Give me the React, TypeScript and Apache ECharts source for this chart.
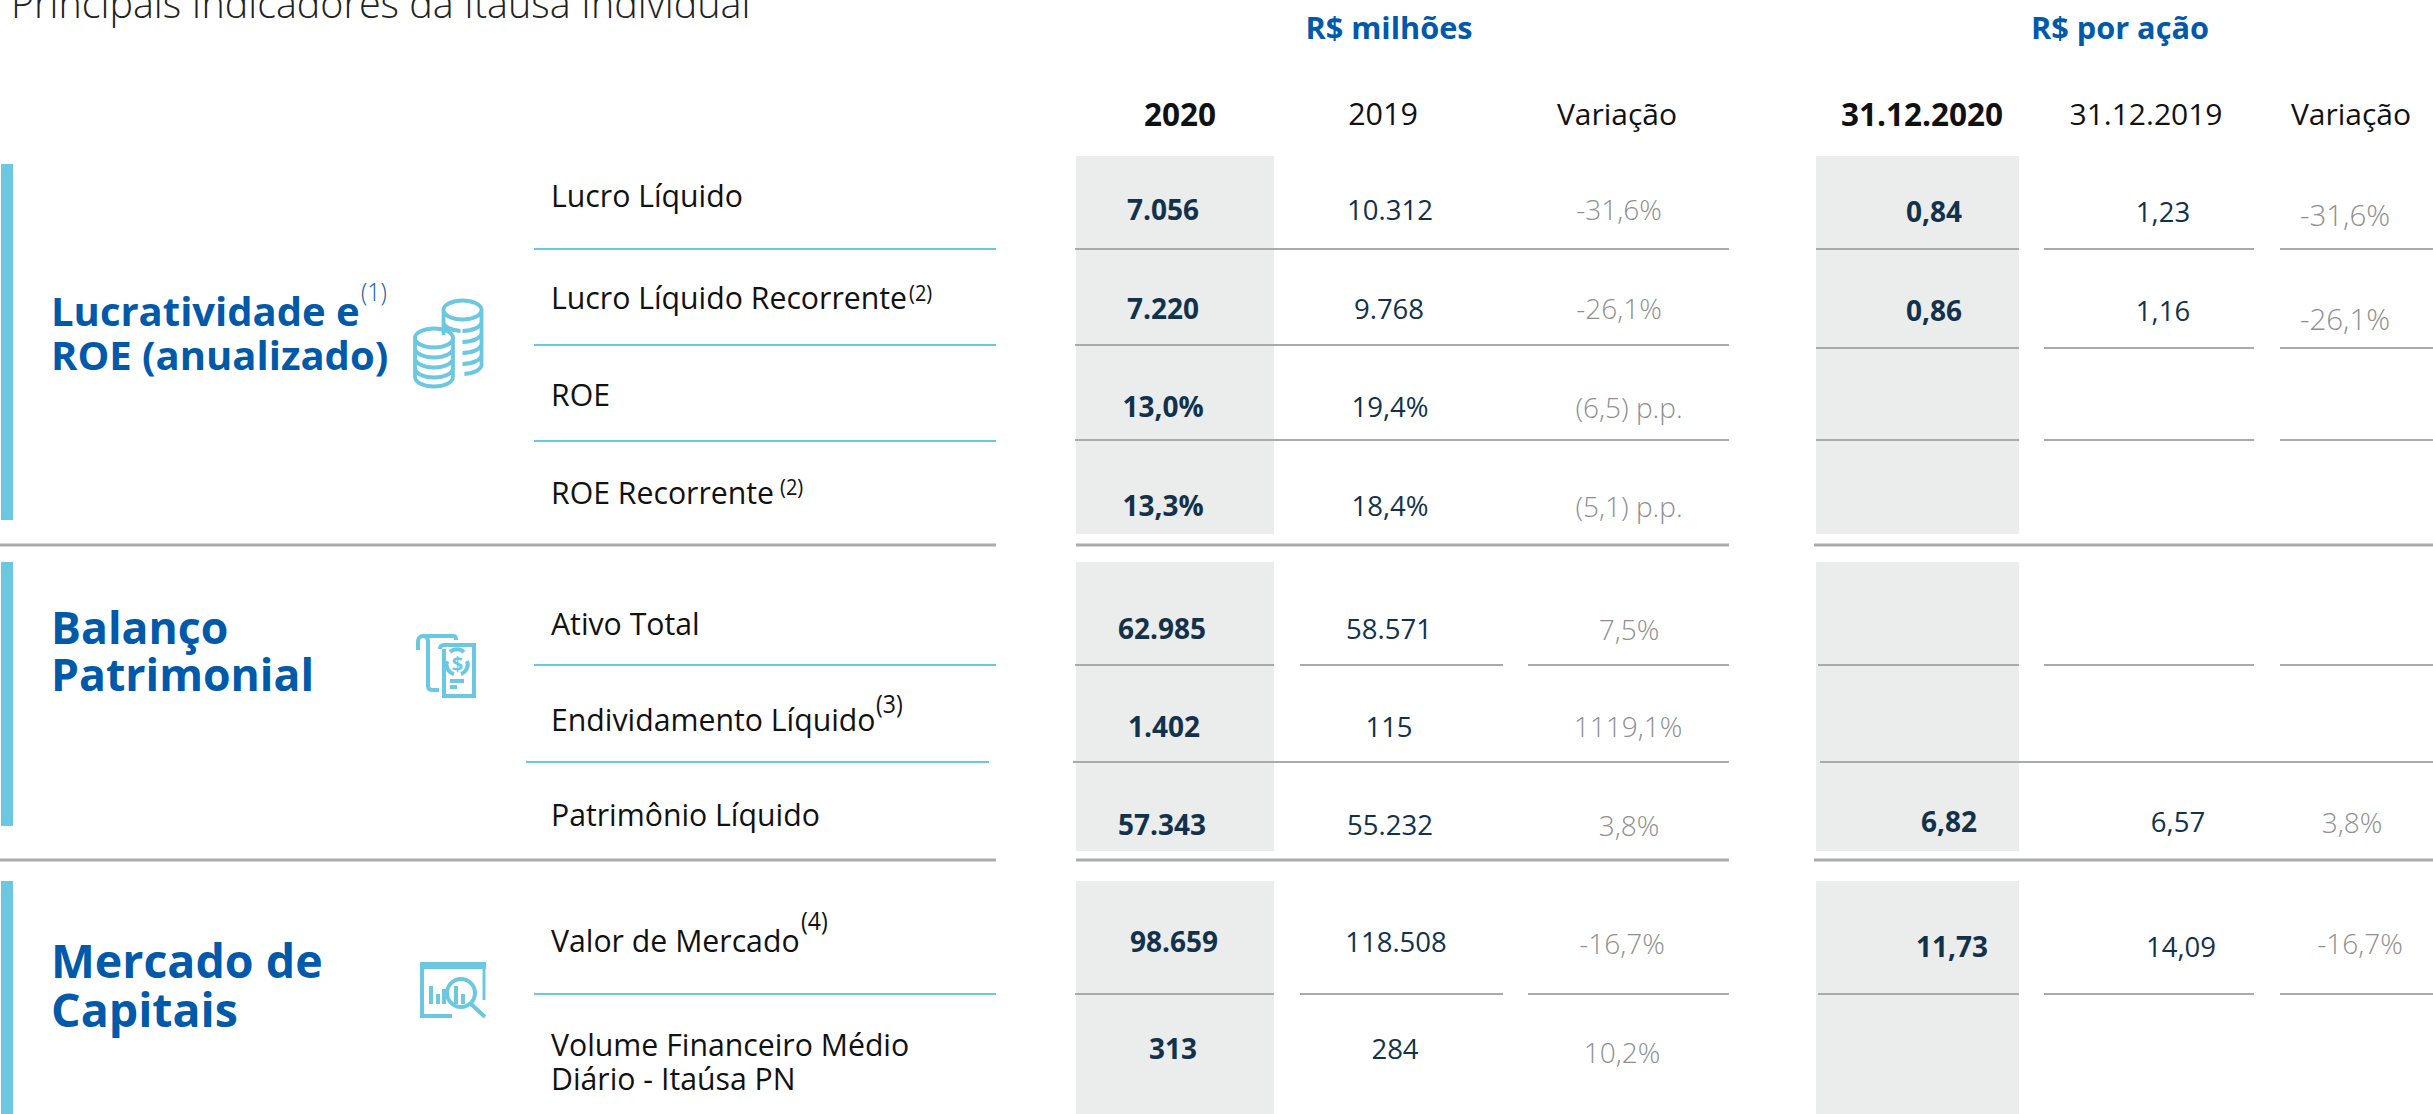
import React, { useEffect, useRef } from "react";
import * as echarts from "echarts";

const W = 2433, H = 1114;
const FONT = '"Open Sans", "Noto Sans", sans-serif';
const BLUE = "#0059A9", CYAN = "#6CC8E0", PANEL = "#EBECEC", GRAY = "#A9ABAB", DARK = "#12324C", VAR = "#8F8F8F", INK = "#111111";

const title = "Principais Indicadores da Itaúsa Individual";
const groupHeaders = ["R$ milhões", "R$ por ação"];
const columnHeaders = ["2020", "2019", "Variação", "31.12.2020", "31.12.2019", "Variação"];
const sections = ["Lucratividade e\nROE (anualizado)", "Balanço\nPatrimonial", "Mercado de\nCapitais"];
const rowLabels = ["Lucro Líquido", "Lucro Líquido Recorrente", "ROE", "ROE Recorrente", "Ativo Total", "Endividamento Líquido", "Patrimônio Líquido", "Valor de Mercado", "Volume Financeiro Médio", "Diário - Itaúsa PN"];
const notes = ["(1)", "(2)", "(2)", "(3)", "(4)"];
const values2020 = ["7.056", "7.220", "13,0%", "13,3%", "62.985", "1.402", "57.343", "98.659", "313"];
const values2019 = ["10.312", "9.768", "19,4%", "18,4%", "58.571", "115", "55.232", "118.508", "284"];
const variation = ["-31,6%", "-26,1%", "(6,5) p.p.", "(5,1) p.p.", "7,5%", "1119,1%", "3,8%", "-16,7%", "10,2%"];
const perShare2020 = ["0,84", "0,86", "6,82", "11,73"];
const perShare2019 = ["1,23", "1,16", "6,57", "14,09"];
const perShareVariation = ["-31,6%", "-26,1%", "3,8%", "-16,7%"];

echarts.graphic.registerShape("coins", echarts.graphic.extendPath(
  "M30 10 A20 9.5 0 1 1 70 10 A20 9.5 0 1 1 30 10 M30 10 V22 A20 9.5 0 0 0 48 31 M30 22 V35 M70 10 V65 A20 9.5 0 0 1 52 74 M70 22 A20 9.5 0 0 1 50 31 M70 33 A20 9.5 0 0 1 50 42 M70 44 A20 9.5 0 0 1 50 53 M70 55 A20 9.5 0 0 1 50 64 M0 38 A20 9.5 0 1 1 40 38 A20 9.5 0 1 1 0 38 M0 38 V77 A20 9.5 0 0 0 40 77 V38 M0 48 A20 9.5 0 0 0 40 48 M0 58 A20 9.5 0 0 0 40 58 M0 68 A20 9.5 0 0 0 40 68",
  {}
));
echarts.graphic.registerShape("billsBack", echarts.graphic.extendPath(
  "M0 14 V5 A5 5 0 0 1 10 5 V50 Q10 54 15 54 H21 M5 0 H36 Q38 0 38 4",
  {}
));
echarts.graphic.registerShape("billsFront", echarts.graphic.extendPath(
  "M0 4 Q0 0 4 0 H34 V51 H4 V4 M10 36 H24 M10 42 H17 M7 16 A10 10 0 0 0 14 29 M27 16 A10 10 0 0 1 21 29 M10 7 A10 10 0 0 1 24 7",
  {}
));
echarts.graphic.registerShape("lens", echarts.graphic.extendPath(
  "M0 14 A14 14 0 1 1 28 14 A14 14 0 1 1 0 14 M24 25 L38 38",
  {}
));

type TOpts = { size?: number; color?: string; weight?: number | string; align?: string; sx?: number; lh?: number };
const T = (text: string, x: number, y: number, o: TOpts = {}) => ({
  type: "text", x, y, silent: true, originX: 0, originY: 0, scaleX: o.sx ?? 1,
  style: {
    text, fill: o.color ?? INK, fontFamily: FONT, fontSize: o.size ?? 28, fontWeight: o.weight ?? 400,
    align: o.align ?? "left", verticalAlign: "middle", ...(o.lh ? { lineHeight: o.lh } : {}),
  },
});
const R = (x: number, y: number, x2: number, y2: number, fill: string) => ({
  type: "rect", silent: true, shape: { x, y, width: x2 - x, height: y2 - y }, style: { fill },
});
const L = (x1: number, x2: number, y: number, color: string, w = 2) => R(x1, y - w / 2, x2, y + w / 2, color);

const labelX = 551;
const BODY = { size: 31.5, sx: 0.96, weight: 400, color: INK };
const strong = { size: 28, sx: 1, weight: 700, color: DARK, align: "center" };
const plain = { size: 27.5, sx: 1, weight: 400, color: DARK, align: "center" };
const faint = { size: 28, sx: 1, weight: 300, color: VAR, align: "center" };
const noteSm = { size: 21, sx: 0.95, weight: 400, color: INK };
const noteLg = { size: 25, sx: 0.92, weight: 400, color: INK };

const col2020X = [1163, 1163, 1163, 1163, 1162, 1164, 1162, 1174, 1173];
const col2019X = [1390, 1389, 1390, 1390, 1389, 1389, 1390, 1396, 1395];
const colVarX = [1619, 1619, 1629, 1629, 1629, 1628, 1629, 1622, 1622];
const rowY = [209, 308, 406, 505, 628, 726, 824, 941, 1048];
const rowVarY = [209, 308, 407, 506, 629, 726, 825, 943, 1052];
const shareX = [1934, 1934, 1949, 1952], share19X = [2163, 2163, 2178, 2181], shareVX = [2345, 2345, 2352, 2360];
const shareY = [211, 310, 821, 946], shareVY = [214, 318, 822, 943];
const shareVSize = [29.5, 29.5, 28, 28];
const labelY = [195, 297, 394, 492, 623, 719, 814, 940, 1044, 1078];

function buildGraphic() {
  const els: any[] = [];
  // panels
  [[156, 534], [562, 851], [881, 1114]].forEach(([a, b]) => {
    els.push(R(1076, a, 1274, b, PANEL), R(1816, a, 2019, b, PANEL));
  });
  // accent bars
  [[164, 520], [562, 826], [881, 1114]].forEach(([a, b]) => els.push(R(1, a, 13, b, CYAN)));
  // rules
  [249, 345, 441].forEach((y) => els.push(L(534, 996, y, CYAN)));
  els.push(L(534, 996, 665, CYAN), L(526, 989, 762, CYAN), L(534, 996, 994, CYAN));
  [545, 860].forEach((y) => els.push(L(0, 996, y, GRAY, 3), L(1076, 1729, y, GRAY, 3), L(1814, 2433, y, GRAY, 3)));
  [249, 345, 440].forEach((y) => els.push(L(1075, 1729, y, GRAY)));
  els.push(L(1073, 1729, 762, GRAY), L(1820, 2433, 762, GRAY));
  [665, 994].forEach((y) => els.push(L(1075, 1274, y, GRAY), L(1300, 1503, y, GRAY), L(1528, 1729, y, GRAY)));
  [[249, 1816], [348, 1816], [440, 1816], [665, 1818], [994, 1818]].forEach(([y, x]) =>
    els.push(L(x, 2019, y, GRAY), L(2044, 2254, y, GRAY), L(2280, 2433, y, GRAY)));

  // title & headers
  els.push(T(title, 11, 3, { size: 39.5, sx: 1, weight: 300, color: "#222" }));
  els.push(T(groupHeaders[0], 1389, 27, { size: 31, sx: 0.99, weight: 700, color: BLUE, align: "center" }));
  els.push(T(groupHeaders[1], 2120, 27, { size: 31, sx: 0.99, weight: 700, color: BLUE, align: "center" }));
  const headX = [1180, 1383, 1617, 1922, 2146, 2351];
  const headSize = [31.5, 30.5, 30, 31.5, 30, 30];
  columnHeaders.forEach((h, i) =>
    els.push(T(h, headX[i], 113, { size: headSize[i], align: "center", color: INK, weight: i === 0 || i === 3 ? 700 : 400 })));

  // section titles
  const secY = [332, 649.5, 984.5];
  const secSize = [40, 44.6, 46.5];
  const secLine = [44, 47, 49];
  sections.forEach((t, i) =>
    els.push(T(t, 51, secY[i], { size: secSize[i], lh: secLine[i], weight: 700, color: BLUE })));

  // row labels
  rowLabels.forEach((t, i) => els.push(T(t, labelX, labelY[i], BODY)));

  // notes
  els.push(T(notes[0], 361, 291, { ...noteLg, color: BLUE, weight: 300 }));
  els.push(T(notes[1], 909, 293, noteSm));
  els.push(T(notes[2], 780, 487, noteSm));
  els.push(T(notes[3], 876, 703, noteLg));
  els.push(T(notes[4], 801, 920, noteLg));

  // values
  values2020.forEach((v, i) => els.push(T(v, col2020X[i], rowY[i], strong)));
  values2019.forEach((v, i) => els.push(T(v, col2019X[i], rowY[i], plain)));
  variation.forEach((v, i) => els.push(T(v, colVarX[i], rowVarY[i], faint)));
  perShare2020.forEach((v, i) => els.push(T(v, shareX[i], shareY[i], strong)));
  perShare2019.forEach((v, i) => els.push(T(v, share19X[i], shareY[i], plain)));
  perShareVariation.forEach((v, i) => els.push(T(v, shareVX[i], shareVY[i], { ...faint, size: shareVSize[i] })));

  // icons
  const iconStroke = { stroke: CYAN, fill: "none", lineWidth: 4 };
  els.push({ type: "coins", x: 415, y: 300, scaleX: 0.95, silent: true, style: iconStroke });
  els.push({ type: "billsBack", x: 418, y: 636, silent: true, style: { ...iconStroke, lineWidth: 4 } });
  els.push({ type: "billsFront", x: 440, y: 645, silent: true, style: { ...iconStroke, lineWidth: 4 } });
  els.push(T("$", 457.5, 663, { size: 20, weight: 700, color: CYAN, align: "center" }));
  els.push(R(420, 962, 486, 969, CYAN));
  els.push({ type: "polyline", silent: true, shape: { points: [[422, 969], [422, 1016], [452, 1016]] }, style: { ...iconStroke, lineWidth: 4 } });
  els.push({ type: "polyline", silent: true, shape: { points: [[484, 969], [484, 1000]] }, style: { ...iconStroke, lineWidth: 3 } });
  [[429, 986, 433], [436, 994, 440], [442, 989, 446], [454, 986, 458], [461, 994, 465]].forEach(([a, y, b]) => {
    els.push(R(a, y, b, 1004, CYAN));
  });
  els.push({ type: "lens", x: 447, y: 979, silent: true, style: iconStroke });
  return els;
}

export default function App() {
  const ref = useRef<HTMLDivElement>(null);
  useEffect(() => {
    document.body.style.margin = "0";
    const chart = echarts.init(ref.current!, undefined, { renderer: "svg" });
    chart.setOption({ animation: false, backgroundColor: "#ffffff", graphic: { elements: buildGraphic() } });
    return () => chart.dispose();
  }, []);
  return <div ref={ref} style={{ width: W, height: H, overflow: "hidden" }} />;
}
